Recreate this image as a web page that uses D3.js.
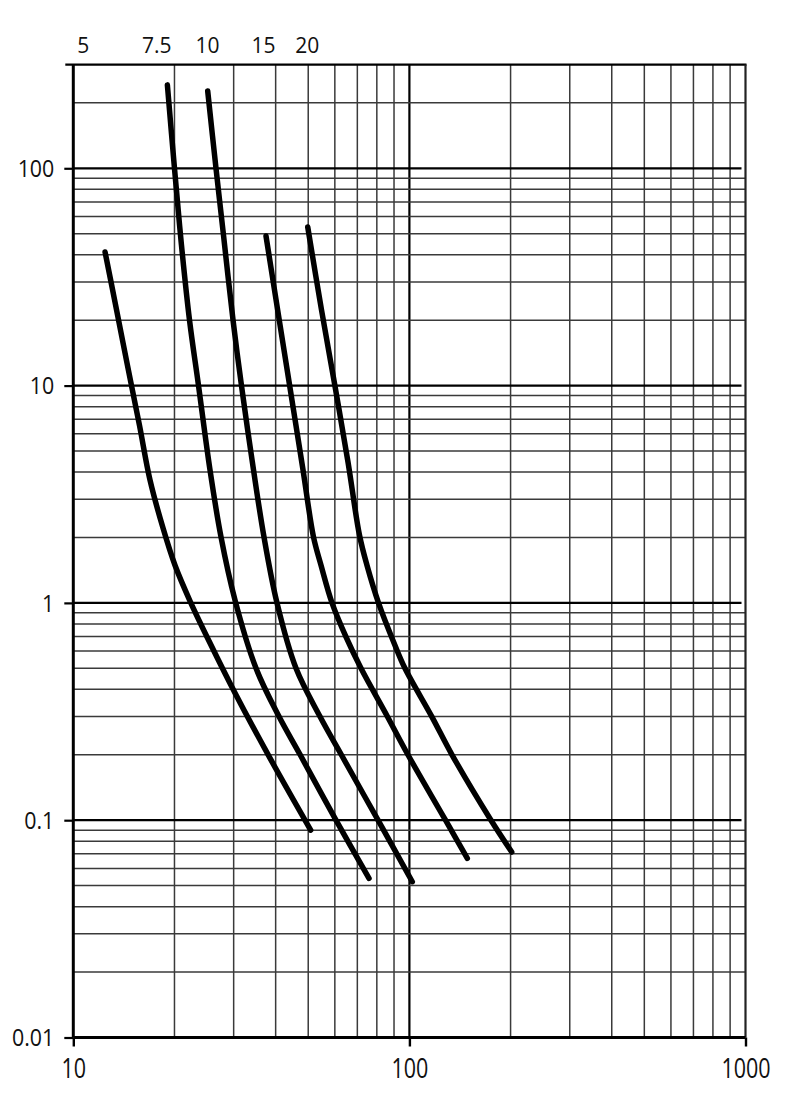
<!DOCTYPE html>
<html>
<head>
<meta charset="utf-8">
<script src="https://cdn.jsdelivr.net/npm/d3@7"></script>
<style>
	html, body { margin: 0; padding: 0; background: #fff; }
	svg text { font-family: "Open Sans", "DejaVu Sans", sans-serif; fill: #111; }
</style>
</head>
<body>
<div class="container"></div>
<script>
"use strict";

// curve names shown above the plot, and the x value each name sits over
var curveNames = ["5", "7.5", "10", "15", "20"];
var nameAt = [10.7, 17.7, 25.1, 36.8, 49.7];

// tick labels
var xTicks = [10, 100, 1000];
var xTickLabels = ["10", "100", "1000"];
var yTicks = [0.01, 0.1, 1, 10, 100];
var yTickLabels = ["0.01", "0.1", "1", "10", "100"];

// curves: [x, y]
var curve5 = [[12.43, 41.2], [13.36, 23.5], [14.49, 12.4], [15.73, 6.59], [16.91, 3.68], [18.49, 2.21],
	[20.07, 1.49], [22.25, 1.02], [25.51, 0.654], [30.28, 0.385], [38.48, 0.193], [50.85, 0.0901]];
var curve7_5 = [[19.05, 242], [20.0, 100], [20.98, 44.4], [22.17, 20], [23.58, 10], [25.51, 4.09], [27.51, 2.01],
	[30.28, 1.03], [34.97, 0.50], [40.93, 0.30], [47.32, 0.20], [60.47, 0.10], [75.83, 0.054]];
var curve10 = [[25.11, 227], [26.58, 100], [27.98, 49.3], [29.87, 20], [31.65, 10], [34.37, 4.09], [36.93, 2.01],
	[40.37, 1.0], [45.99, 0.50], [54.2, 0.30], [62.73, 0.20], [80.66, 0.10], [102.0, 0.0521]];
var curve15 = [[37.44, 48.8], [40.78, 21.1], [44.43, 9.15], [48.25, 4.09], [51.84, 2.01], [54.58, 1.49],
	[58.85, 1.0], [64.77, 0.697], [71.78, 0.50], [86.0, 0.30], [99.0, 0.20], [128.1, 0.10], [148.7, 0.0668]];
var curve20 = [[49.83, 53.7], [54.76, 22.3], [60.05, 9.96], [65.66, 4.45], [71.03, 2.05], [74.78, 1.49],
	[80.92, 1.0], [90.0, 0.654], [97.0, 0.50], [116.7, 0.299], [133.9, 0.20], [174.9, 0.10], [201.6, 0.0714]];

var aCurves = [curve5, curve7_5, curve10, curve15, curve20];

var iWidth = 790, iHeight = 1099;

var svg = d3.select(".container").append("svg")
	.attr("width", iWidth)
	.attr("height", iHeight);

var x = d3.scaleLog().domain([10, 1000]).range([73.3, 745.5]);
var y = d3.scaleLog().domain([0.01, 300]).range([1037.5, 64.6]);

function isMajor(d) {
	var l = Math.log10(d);
	return Math.abs(l - Math.round(l)) < 1e-9;
}

// grid
var gGrid = svg.append("g");

gGrid.selectAll("line.v")
	.data(x.ticks().filter(function(d) { return d > 10 && d < 1000; }))
	.enter().append("line")
	.attr("x1", function(d) { return x(d); })
	.attr("x2", function(d) { return x(d); })
	.attr("y1", y(300))
	.attr("y2", y(0.01))
	.attr("stroke", function(d) { return isMajor(d) ? "#000" : "#3a3a3a"; })
	.attr("stroke-width", function(d) { return isMajor(d) ? 2.2 : 1.5; });

gGrid.selectAll("line.h")
	.data(y.ticks().filter(function(d) { return d > 0.01 && d < 300; }))
	.enter().append("line")
	.attr("x1", x(10))
	.attr("x2", function(d) { return isMajor(d) ? x(1000) - 4 : x(1000); })
	.attr("y1", function(d) { return y(d); })
	.attr("y2", function(d) { return y(d); })
	.attr("stroke", function(d) { return isMajor(d) ? "#000" : "#3a3a3a"; })
	.attr("stroke-width", function(d) { return isMajor(d) ? 2.2 : 1.5; });

// frame
svg.append("line")
	.attr("x1", x(10) - 8).attr("x2", x(1000) + 1)
	.attr("y1", y(300)).attr("y2", y(300))
	.attr("stroke", "#000").attr("stroke-width", 2.4);
svg.append("line")
	.attr("x1", x(1000)).attr("x2", x(1000))
	.attr("y1", y(300)).attr("y2", y(0.01))
	.attr("stroke", "#222").attr("stroke-width", 2.2);
svg.append("line")
	.attr("x1", x(10)).attr("x2", x(10))
	.attr("y1", y(300)).attr("y2", y(0.01))
	.attr("stroke", "#000").attr("stroke-width", 3);
svg.append("line")
	.attr("x1", x(10)).attr("x2", x(1000))
	.attr("y1", y(0.01)).attr("y2", y(0.01))
	.attr("stroke", "#000").attr("stroke-width", 3);

// axes
var gY = svg.append("g")
	.attr("transform", "translate(" + x(10) + ",0)")
	.call(d3.axisLeft(y)
		.tickValues(yTicks)
		.tickSize(9)
		.tickFormat(function(d, i) { return yTickLabels[i]; }));
gY.select(".domain").remove();
gY.selectAll(".tick line").attr("stroke", "#000").attr("stroke-width", 2.2);
gY.selectAll(".tick text")
	.attr("x", null)
	.attr("dy", "0.36em")
	.attr("transform", "translate(-19,0) scale(0.93,1)")
	.style("font-size", "23px")
	.style("font-family", "\"Open Sans\", sans-serif")
	.attr("fill", "#111");

var gX = svg.append("g")
	.attr("transform", "translate(0," + y(0.01) + ")")
	.call(d3.axisBottom(x)
		.tickValues(xTicks)
		.tickSize(9)
		.tickFormat(function(d, i) { return xTickLabels[i]; }));
gX.select(".domain").remove();
gX.selectAll(".tick line").attr("stroke", "#000").attr("stroke-width", 2.4);
gX.selectAll(".tick text")
	.attr("y", null)
	.attr("dy", null)
	.attr("transform", "translate(0,40) scale(0.86,1.12)")
	.style("font-size", "25px")
	.style("font-family", "\"Open Sans\", sans-serif")
	.attr("fill", "#111");

// curves
var line = d3.line()
	.x(function(d) { return x(d[0]); })
	.y(function(d) { return y(d[1]); })
	.curve(d3.curveCatmullRom.alpha(0.5));

svg.append("g").selectAll("path")
	.data(aCurves)
	.enter().append("path")
	.attr("d", line)
	.attr("fill", "none")
	.attr("stroke", "#000")
	.attr("stroke-width", 5.5)
	.attr("stroke-linecap", "round")
	.attr("stroke-linejoin", "round");

// curve names above the frame
svg.append("g").selectAll("text")
	.data(curveNames)
	.enter().append("text")
	.attr("x", function(d, i) { return x(nameAt[i]); })
	.attr("y", 53)
	.attr("text-anchor", "middle")
	.style("font-size", "21px")
	.text(function(d) { return d; });
</script>
</body>
</html>
